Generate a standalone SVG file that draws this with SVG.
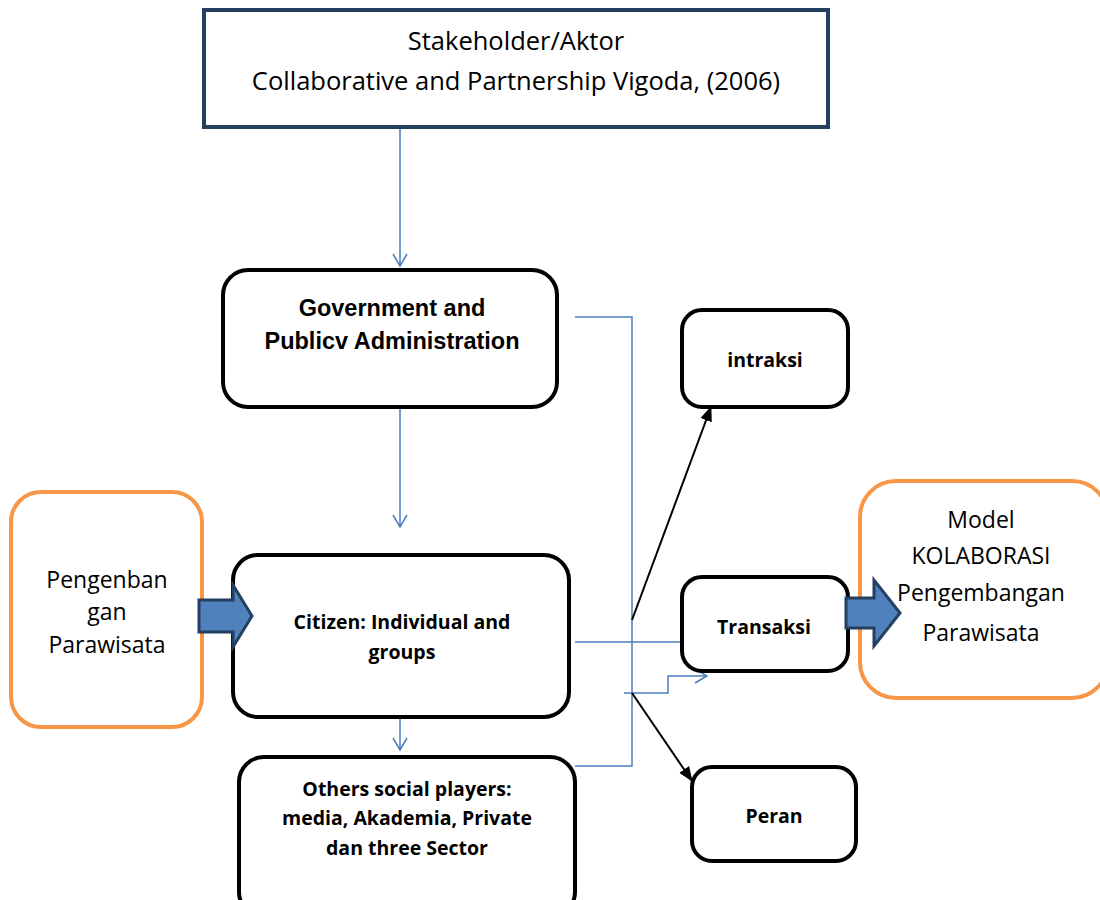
<svg xmlns="http://www.w3.org/2000/svg" width="1100" height="900" viewBox="0 0 1100 900">
<style>
.box{fill:#fff;stroke:#000;stroke-width:4}
.obox{fill:#fff;stroke:#f79646;stroke-width:4}
.t{font-family:"Open Sans","Liberation Sans",sans-serif;fill:#000;text-anchor:middle}
.tb{font-family:"Open Sans","Liberation Sans",sans-serif;font-weight:bold;fill:#000;text-anchor:middle;font-size:19.5px}
.ta{font-family:"Liberation Sans",Arial,sans-serif;font-weight:bold;fill:#000;text-anchor:middle;font-size:23.5px}
.bl{fill:none;stroke:#4a7ebb;stroke-width:1.5}
.bk{fill:none;stroke:#000;stroke-width:2}
.blk{fill:#4f81bd;stroke:#243f60;stroke-width:3;stroke-linejoin:miter}
</style>
<defs>
<marker id="open" markerWidth="16" markerHeight="16" refX="13" refY="8" orient="auto" markerUnits="userSpaceOnUse">
<path d="M1,1 L13,8 L1,15" fill="none" stroke="#4a7ebb" stroke-width="1.5"/>
</marker>
<marker id="fill" markerWidth="16" markerHeight="16" refX="14" refY="8" orient="auto" markerUnits="userSpaceOnUse">
<path d="M0,2 L15,8 L0,14 z" fill="#000"/>
</marker>
</defs>
<rect width="1100" height="900" fill="#fff"/>
<g id="connectors">
<path class="bl" d="M400,127 V266" marker-end="url(#open)"/>
<path class="bl" d="M400,407 V527" marker-end="url(#open)"/>
<path class="bl" d="M400,717 V750" marker-end="url(#open)"/>
<path class="bl" d="M575,317 H632 V766 H575"/>
<path class="bl" d="M575,642 H683"/>
<path class="bl" d="M624,693 H668 V676 H707" marker-end="url(#open)"/>
<path class="bk" d="M632,620 L711,407" marker-end="url(#fill)"/>
<path class="bk" d="M632,693 L692,781" marker-end="url(#fill)"/>
</g>
<g id="stakeholder">
<rect x="204" y="10" width="624" height="117" fill="#fff" stroke="#243f60" stroke-width="4"/>
<text class="t" x="516" y="50" font-size="25.5">Stakeholder/Aktor</text>
<text class="t" x="516" y="90" font-size="25.5">Collaborative and Partnership Vigoda, (2006)</text>
</g>
<g id="government">
<rect class="box" x="223" y="270" width="334" height="137" rx="25"/>
<text class="ta" x="392" y="316">Government and</text>
<text class="ta" x="392" y="349">Publicv Administration</text>
</g>
<g id="citizen">
<rect class="box" x="233" y="555" width="336" height="162" rx="25"/>
<text class="tb" x="402" y="629">Citizen: Individual and</text>
<text class="tb" x="402" y="659">groups</text>
</g>
<g id="others">
<rect class="box" x="239" y="757" width="336" height="160" rx="25"/>
<text class="tb" x="407" y="796">Others social players:</text>
<text class="tb" x="407" y="825">media, Akademia, Private</text>
<text class="tb" x="407" y="855">dan three Sector</text>
</g>
<g id="pengembangan">
<rect class="obox" x="11" y="492" width="191" height="235" rx="30"/>
<text class="t" x="107" y="588" font-size="23">Pengenban</text>
<text class="t" x="107" y="620" font-size="23">gan</text>
<text class="t" x="107" y="653" font-size="23">Parawisata</text>
</g>
<g id="model">
<rect class="obox" x="860" y="481" width="248" height="217" rx="36"/>
<text class="t" x="981" y="528" font-size="23">Model</text>
<text class="t" x="981" y="564" font-size="23">KOLABORASI</text>
<text class="t" x="981" y="601" font-size="23">Pengembangan</text>
<text class="t" x="981" y="641" font-size="23">Parawisata</text>
</g>
<g id="intraksi">
<rect class="box" x="682" y="310" width="166" height="97" rx="20"/>
<text class="tb" x="765" y="367">intraksi</text>
</g>
<g id="transaksi">
<rect class="box" x="682" y="577" width="166" height="94" rx="20"/>
<text class="tb" x="764" y="634">Transaksi</text>
</g>
<g id="peran">
<rect class="box" x="692" y="767" width="164" height="94" rx="20"/>
<text class="tb" x="774" y="823">Peran</text>
</g>
<g id="arrow-left">
<path class="blk" d="M199,600 H233 V585 L252,616 L233,647 V632 H199 Z"/>
</g>
<g id="arrow-right">
<path class="blk" d="M846,598 H874 V580 L900,613 L874,646 V628 H846 Z"/>
</g>
</svg>
